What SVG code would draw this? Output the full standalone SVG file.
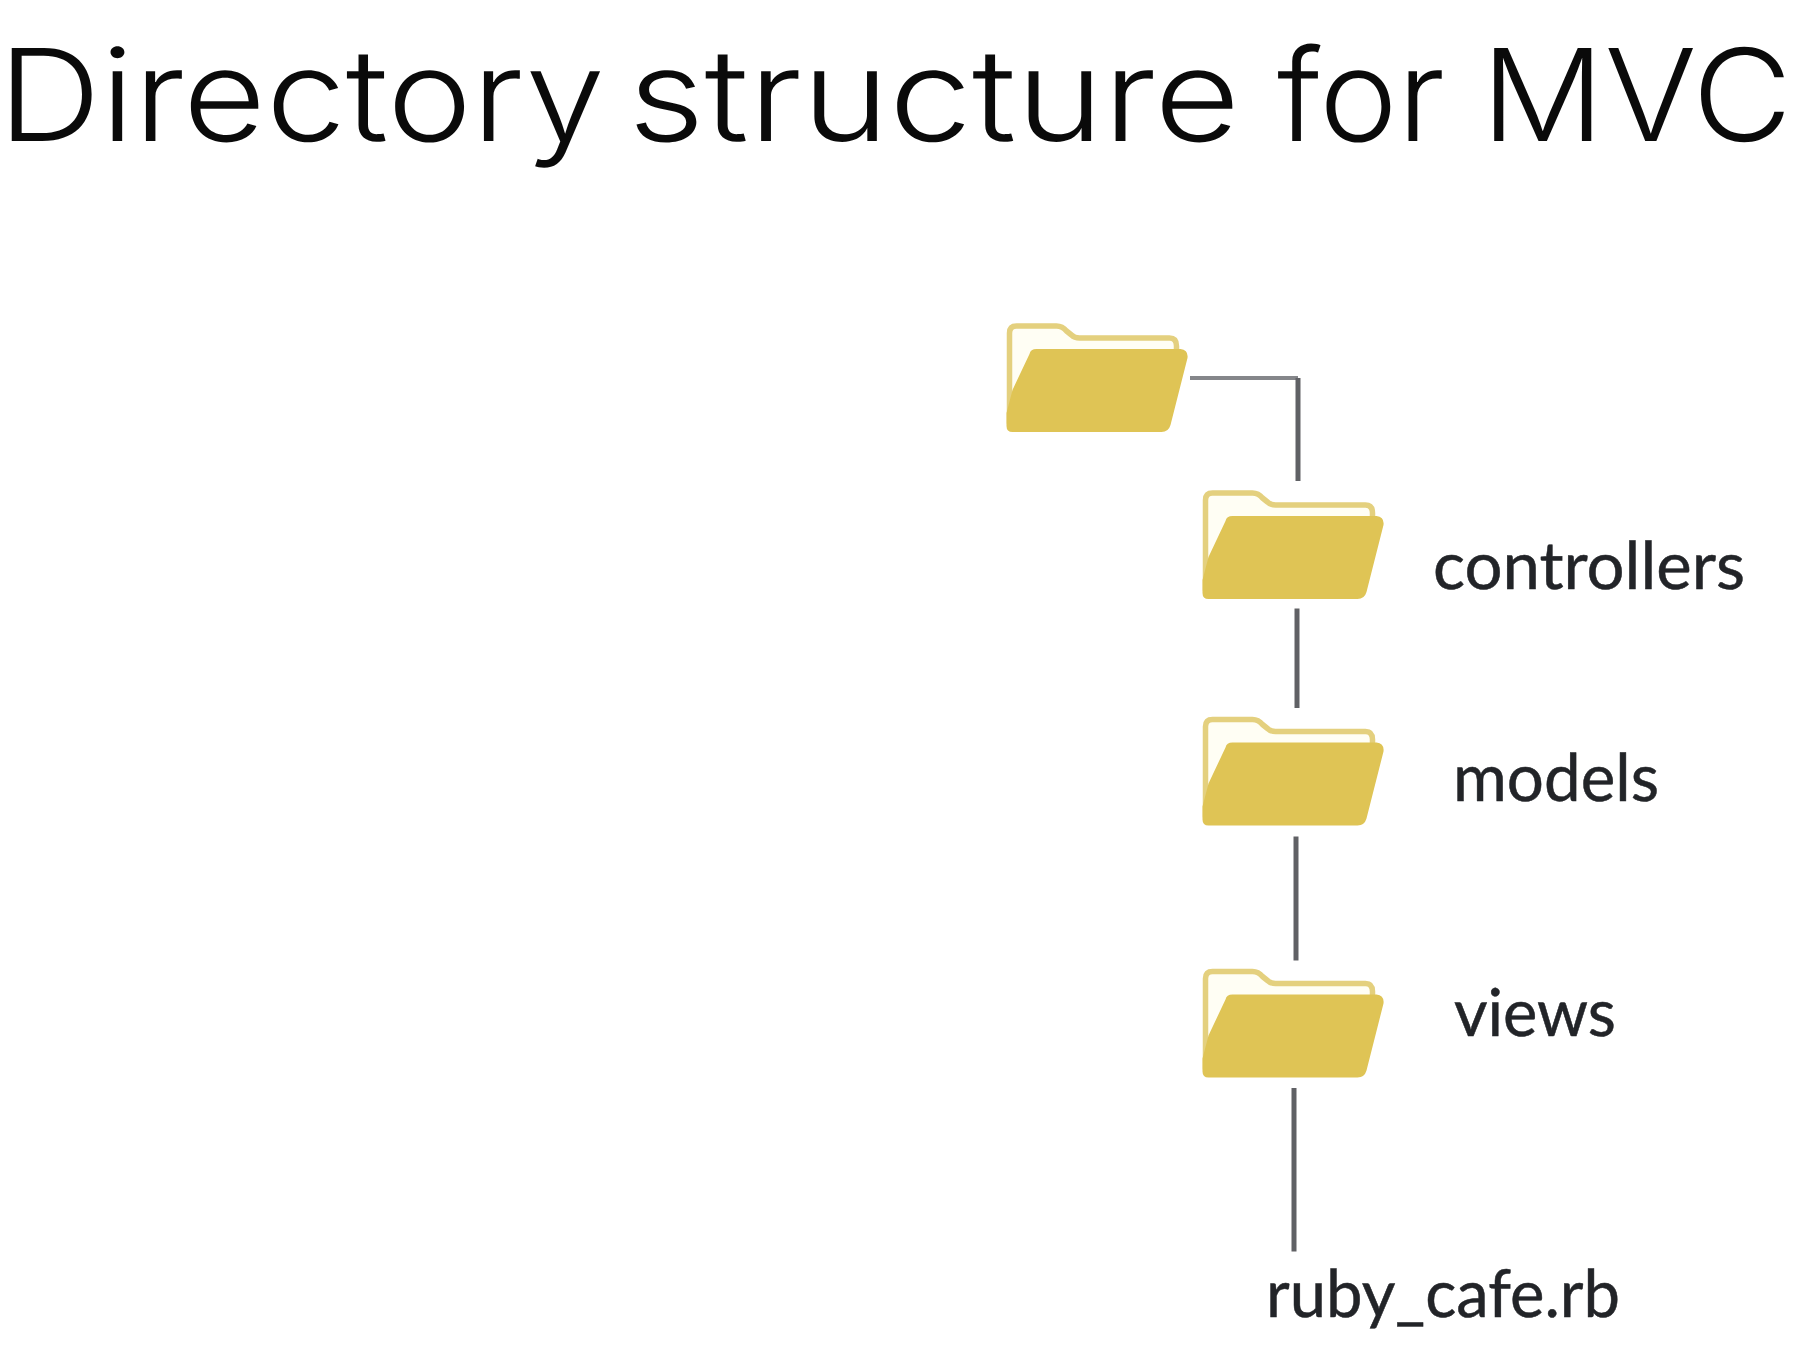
<svg xmlns="http://www.w3.org/2000/svg" width="1796" height="1346" viewBox="0 0 1796 1346">
<style>
text{text-rendering:geometricPrecision}
.title{font-family:"Inter","Liberation Sans",sans-serif;font-weight:300;font-size:128px;fill:#0a0a0a}
.label{font-family:"Lato","Carlito","Liberation Sans",sans-serif;font-size:66px;fill:#222428;stroke:#222428;stroke-width:0.5}
.conn{fill:none;stroke:#606165;stroke-width:5}
.conn-light{fill:none;stroke:#85868a;stroke-width:4}
.back{fill:#fffef4;stroke:#e4d07e;stroke-width:5.5;stroke-linejoin:round}
.front{fill:#dfc455}
</style>
<defs>
<g id="folder">
<path class="back" d="M3 100 V10 Q3 3 10 3 H50 Q56 3 60 8 L65 12 Q68 15 73 15 H163 Q170 15 170 23 V40 H30 L8 100 Z"/>
<path class="front" d="M23 31 Q24 26 30 26 H174 Q182 27 181 35 L164 102 Q162 109 155 109 H6 Q0 109 0 103 V90 L6 67 Z"/>
</g>
</defs>
<rect width="1796" height="1346" fill="#ffffff"/>
<text class="title" y="141"><tspan x="-2" textLength="607" lengthAdjust="spacingAndGlyphs">Directory</tspan> <tspan x="628" textLength="612" lengthAdjust="spacingAndGlyphs">structure</tspan> <tspan x="1277" textLength="168" lengthAdjust="spacingAndGlyphs">for</tspan> <tspan x="1481" textLength="311" lengthAdjust="spacingAndGlyphs">MVC</tspan></text>
<g id="connectors">
<path class="conn-light" d="M1190 378 H1298"/>
<path class="conn" d="M1298 378 V481"/>
<path class="conn" d="M1297 608.500 V708"/>
<path class="conn" d="M1296 836.500 V960.500"/>
<path class="conn" d="M1294 1088 V1251.500"/>
</g>
<g id="root"><use href="#folder" x="1006.500" y="323"/></g>
<g id="controllers"><use href="#folder" x="1202.500" y="490"/><text class="label" x="1433" y="588.500" textLength="312" lengthAdjust="spacingAndGlyphs">controllers</text></g>
<g id="models"><use href="#folder" x="1202.500" y="716.500"/><text class="label" x="1453" y="800.500" textLength="206" lengthAdjust="spacingAndGlyphs">models</text></g>
<g id="views"><use href="#folder" x="1202.500" y="968.500"/><text class="label" x="1454" y="1036" textLength="162" lengthAdjust="spacingAndGlyphs">views</text></g>
<g id="ruby_cafe"><text class="label" x="1266" y="1317" textLength="354" lengthAdjust="spacingAndGlyphs">ruby_cafe.rb</text></g>
</svg>
